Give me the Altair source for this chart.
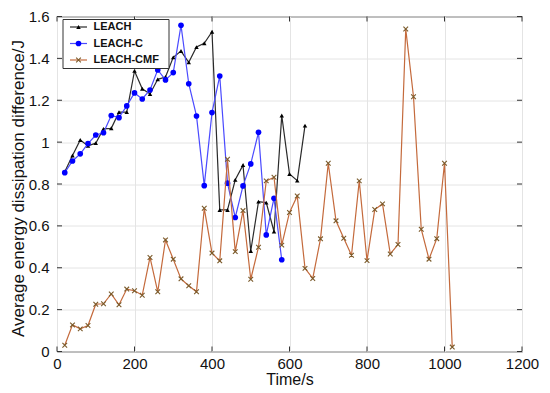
import altair as alt
import pandas as pd

# ---- data ----
TIME = [20, 40, 60, 80, 100, 120, 140, 160, 180, 200, 220, 240, 260, 280, 300,
        320, 340, 360, 380, 400, 420, 440, 460, 480, 500, 520, 540, 560, 580,
        600, 620, 640, 660, 680, 700, 720, 740, 760, 780, 800, 820, 840, 860,
        880, 900, 920, 940, 960, 980, 1000, 1020]

LEACH = [0.859, 0.936, 1.01, 0.982, 0.995, 1.063, 1.066, 1.143, 1.143, 1.34,
         1.255, 1.23, 1.30, 1.311, 1.405, 1.435, 1.381, 1.454, 1.472, 1.527,
         0.676, 0.676, 0.82, 0.89, 0.48, 0.716, 0.711, 0.573, 1.127, 0.848,
         0.816, 1.079]

LEACH_C = [0.854, 0.91, 0.944, 0.993, 1.034, 1.045, 1.127, 1.117, 1.173, 1.235,
           1.206, 1.249, 1.345, 1.297, 1.332, 1.558, 1.279, 1.125, 0.792, 1.141,
           1.316, 0.804, 0.64, 0.791, 0.896, 1.047, 0.557, 0.732, 0.438]

LEACH_CMF = [0.03, 0.127, 0.108, 0.124, 0.226, 0.228, 0.275, 0.223, 0.298, 0.29,
             0.269, 0.449, 0.285, 0.533, 0.441, 0.347, 0.314, 0.285, 0.684, 0.47,
             0.433, 0.918, 0.477, 0.673, 0.345, 0.498, 0.815, 0.832, 0.508, 0.664,
             0.743, 0.397, 0.349, 0.538, 0.899, 0.624, 0.541, 0.46, 0.815, 0.434,
             0.678, 0.705, 0.466, 0.511, 1.54, 1.217, 0.584, 0.441, 0.539, 0.899,
             0.021]

SERIES = ["LEACH", "LEACH-C", "LEACH-CMF"]
X_TICKS = [0, 200, 400, 600, 800, 1000, 1200]
Y_TICKS = [0, 0.2, 0.4, 0.6, 0.8, 1.0, 1.2, 1.4, 1.6]

LINE_COLORS = ["#2a2a2a", "#4a4aff", "#c46a3c"]
MARK_COLORS = ["#000000", "#0000ff", "#7a5a2a"]
X_PATH = "M-1,-1L1,1M-1,1L1,-1"

W, H = 465, 335
FONT = "Liberation Sans"

xs = alt.Scale(domain=[0, 1200], nice=False)
ys = alt.Scale(domain=[0, 1.6], nice=False)

xax = alt.Axis(values=X_TICKS, title="Time/s", format="d", grid=True, ticks=False,
               domain=False, labelPadding=5, labelFontSize=15, titleFontSize=16,
               titleFontWeight="normal", titleY=28, titleBaseline="middle",
               labelFlush=False)
yax = alt.Axis(values=Y_TICKS, title="Average energy dissipation difference/J",
               format=".1~f", grid=True, ticks=False, domain=False,
               labelPadding=8, labelFontSize=15, titleFontSize=17,
               titleFontWeight="normal", titleX=-39, titleY=H / 2 + 4,
               titleAngle=270, titleAlign="center", titleBaseline="middle",
               labelFlush=False)


def X(field="t"):
    return alt.X(f"{field}:Q", scale=xs, axis=xax)


def Y(field="v"):
    return alt.Y(f"{field}:Q", scale=ys, axis=yax)


frames = {
    "LEACH": pd.DataFrame({"t": TIME[:len(LEACH)], "v": LEACH}),
    "LEACH-C": pd.DataFrame({"t": TIME[:len(LEACH_C)], "v": LEACH_C}),
    "LEACH-CMF": pd.DataFrame({"t": TIME[:len(LEACH_CMF)], "v": LEACH_CMF}),
}


def marker(src, s, i):
    if s == "LEACH":
        return alt.Chart(src).mark_point(shape="triangle-up", filled=True,
                                         color=MARK_COLORS[i], size=20, opacity=1)
    if s == "LEACH-C":
        return alt.Chart(src).mark_point(shape="circle", filled=True,
                                         color=MARK_COLORS[i], size=32, opacity=1)
    return alt.Chart(src).mark_point(shape=X_PATH, filled=False,
                                     color=MARK_COLORS[i], size=22,
                                     strokeWidth=1.1, opacity=1)


layers = []
for i, s in enumerate(SERIES):
    d = frames[s]
    layers.append(alt.Chart(d).mark_line(color=LINE_COLORS[i], strokeWidth=1.2)
                  .encode(x=X(), y=Y()))
    layers.append(marker(d, s, i).encode(x=X(), y=Y()))

# inward ticks on all four sides (MATLAB style)
xt = pd.DataFrame({"t": X_TICKS})
yt = pd.DataFrame({"v": Y_TICKS})
tick_style = dict(color="#333333", strokeWidth=1)
layers += [
    alt.Chart(xt).mark_rule(**tick_style).encode(x=X(), y=alt.value(H), y2=alt.value(H - 5)),
    alt.Chart(xt).mark_rule(**tick_style).encode(x=X(), y=alt.value(0), y2=alt.value(5)),
    alt.Chart(yt).mark_rule(**tick_style).encode(y=Y(), x=alt.value(0), x2=alt.value(5)),
    alt.Chart(yt).mark_rule(**tick_style).encode(y=Y(), x=alt.value(W), x2=alt.value(W - 5)),
]

# legend box (top-left, inside)
one = pd.DataFrame({"a": [0]})
layers.append(alt.Chart(one).mark_rect(fill="white", stroke="#333333", strokeWidth=1)
              .encode(x=alt.value(6), x2=alt.value(112), y=alt.value(3), y2=alt.value(52)))
LEG_Y = [10.5, 27, 43.5]
for i, s in enumerate(SERIES):
    yy = LEG_Y[i]
    layers.append(alt.Chart(one).mark_rule(color=LINE_COLORS[i], strokeWidth=1.2)
                  .encode(x=alt.value(13), x2=alt.value(30), y=alt.value(yy)))
    layers.append(marker(one, s, i).encode(x=alt.value(21.5), y=alt.value(yy)))
    layers.append(alt.Chart(one).mark_text(text=s, align="left", baseline="middle",
                                           font=FONT, fontSize=11, fontWeight="bold",
                                           color="#111111")
                  .encode(x=alt.value(36.5), y=alt.value(yy)))

chart = (
    alt.layer(*layers)
    .properties(width=W, height=H,
                autosize=alt.AutoSizeParams(type="none"),
                padding={"left": 49, "top": 8.5, "right": 20, "bottom": 40})
    .configure(font=FONT)
    .configure_view(stroke="#333333", strokeWidth=1)
    .configure_axis(gridColor="#e4e4e4", gridWidth=1, labelColor="#111111",
                    titleColor="#111111", labelFont=FONT, titleFont=FONT)
)

chart.save("out.html", embed_options={"renderer": "svg", "actions": False})
